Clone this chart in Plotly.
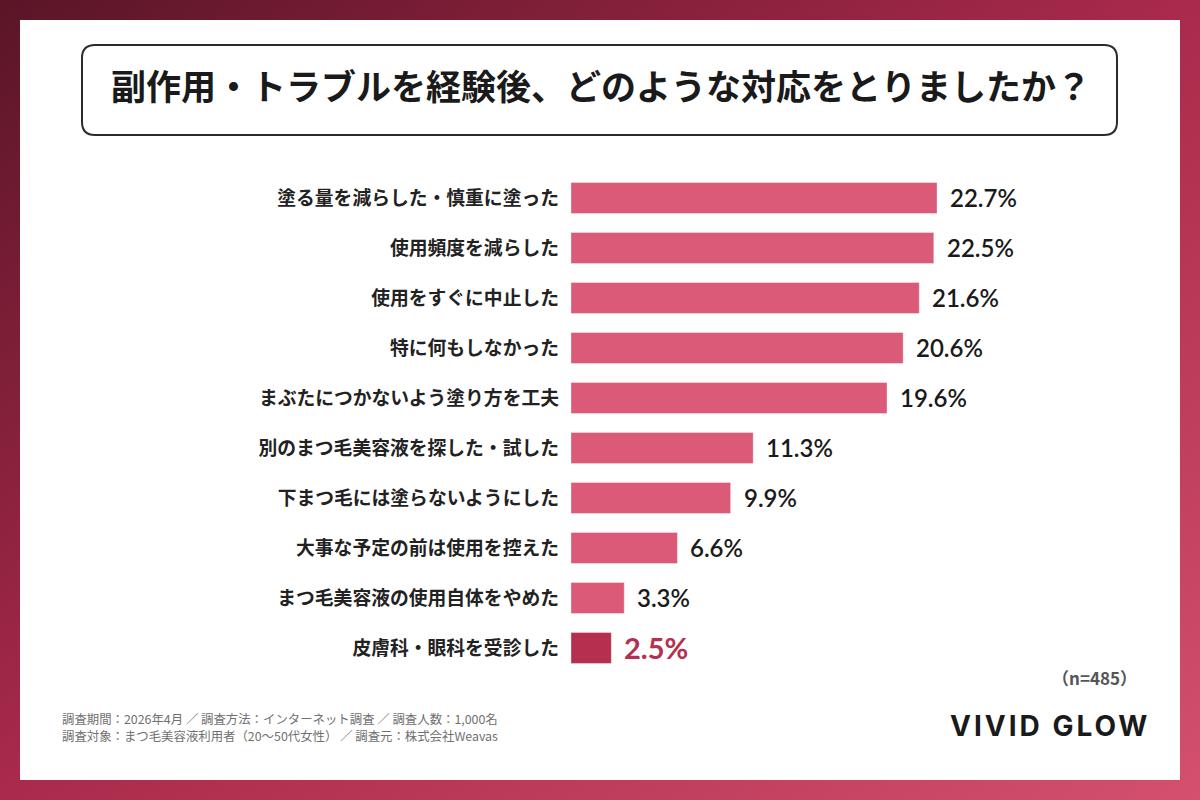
import plotly.graph_objects as go

categories = [
    "塗る量を減らした・慎重に塗った",
    "使用頻度を減らした",
    "使用をすぐに中止した",
    "特に何もしなかった",
    "まぶたにつかないよう塗り方を工夫",
    "別のまつ毛美容液を探した・試した",
    "下まつ毛には塗らないようにした",
    "大事な予定の前は使用を控えた",
    "まつ毛美容液の使用自体をやめた",
    "皮膚科・眼科を受診した",
]
values = [22.7, 22.5, 21.6, 20.6, 19.6, 11.3, 9.9, 6.6, 3.3, 2.5]
value_labels = ["22.7%", "22.5%", "21.6%", "20.6%", "19.6%", "11.3%", "9.9%", "6.6%", "3.3%", "2.5%"]

title_text = "副作用・トラブルを経験後、どのような対応をとりましたか？"
sample_text = "（n=485）"
footer_lines = [
    "調査期間：2026年4月 ／ 調査方法：インターネット調査 ／ 調査人数：1,000名",
    "調査対象：まつ毛美容液利用者（20〜50代女性） ／ 調査元：株式会社Weavas",
]
brand_text = "VIVID GLOW"

W, H = 1200, 800
BAR = "#db5a78"
HIGHLIGHT = "#b5304f"
CJK = "Noto Sans CJK JP"
NUM = "Lato"

colors = [HIGHLIGHT if c == "皮膚科・眼科を受診した" else BAR for c in categories]

def px(x):
    return x / W

def py(y):
    return 1 - y / H

fig = go.Figure()
fig.add_trace(go.Bar(
    x=values, y=categories, orientation="h",
    marker=dict(color=colors, line=dict(color="rgba(255,255,255,0.35)", width=1)),
    width=0.62, hoverinfo="skip",
))

for c, v, lab, col in zip(categories, values, value_labels, colors):
    hi = col == HIGHLIGHT
    fig.add_annotation(
        x=v, y=c, xref="x", yref="y", text=lab, showarrow=False,
        xanchor="left", yanchor="middle", xshift=11, yshift=1,
        font=dict(family=NUM, size=29 if hi else 24, color=HIGHLIGHT if hi else "#1a1a1a", weight="bold" if hi else 600),
    )

# gradient background via inline SVG
svg = ("data:image/svg+xml;utf8,"
       "<svg xmlns='http://www.w3.org/2000/svg' width='1200' height='800'>"
       "<defs><linearGradient id='g' x1='0' y1='0' x2='1' y2='1'>"
       "<stop offset='0' stop-color='%235a1527'/>"
       "<stop offset='0.5' stop-color='%23aa2a4b'/>"
       "<stop offset='1' stop-color='%23d4506e'/>"
       "</linearGradient></defs>"
       "<rect width='1200' height='800' fill='url(%23g)'/></svg>")
fig.add_layout_image(dict(source=svg, xref="paper", yref="paper", x=0, y=1,
                          sizex=1, sizey=1, xanchor="left", yanchor="top",
                          sizing="stretch", layer="below"))

# white panel
fig.add_shape(type="rect", xref="paper", yref="paper",
              x0=px(20), x1=px(1180), y0=py(780), y1=py(20),
              fillcolor="white", line=dict(width=0), layer="below")

# rounded title box
x0, x1, y0, y1, r = 82, 1117, 45, 135, 13
path = (f"M {px(x0+r)},{py(y0)} L {px(x1-r)},{py(y0)} Q {px(x1)},{py(y0)} {px(x1)},{py(y0+r)} "
        f"L {px(x1)},{py(y1-r)} Q {px(x1)},{py(y1)} {px(x1-r)},{py(y1)} "
        f"L {px(x0+r)},{py(y1)} Q {px(x0)},{py(y1)} {px(x0)},{py(y1-r)} "
        f"L {px(x0)},{py(y0+r)} Q {px(x0)},{py(y0)} {px(x0+r)},{py(y0)} Z")
fig.add_shape(type="path", xref="paper", yref="paper", path=path,
              line=dict(color="#2b2b2b", width=2), fillcolor="rgba(0,0,0,0)")

fig.add_annotation(x=px(601), y=py(85), xref="paper", yref="paper", text=title_text,
                   showarrow=False, xanchor="center", yanchor="middle",
                   font=dict(family=CJK, size=35, color="#1a1a1a", weight="bold"))

fig.add_annotation(x=px(1139), y=py(677), xref="paper", yref="paper", text=sample_text,
                   showarrow=False, xanchor="right", yanchor="middle",
                   font=dict(family=CJK, size=17, color="#555555", weight="bold"))

for i, line in enumerate(footer_lines):
    fig.add_annotation(x=px(60), y=py(719 + i * 16.5), xref="paper", yref="paper", text=line,
                       showarrow=False, xanchor="left", yanchor="middle",
                       font=dict(family=CJK, size=12.4, color="#707070"))

fig.add_annotation(x=px(1152), y=py(726), xref="paper", yref="paper",
                   text="<span style='letter-spacing:3px'>" + brand_text + "</span>",
                   showarrow=False, xanchor="right", yanchor="middle",
                   font=dict(family="Inter", size=28, color="#1a1a1a", weight="bold"))

fig.update_layout(
    width=W, height=H, margin=dict(l=0, r=0, t=0, b=0),
    paper_bgcolor="white", plot_bgcolor="rgba(0,0,0,0)",
    showlegend=False, bargap=0.38,
    xaxis=dict(domain=[px(571), px(1171)], range=[0, 600 / (366 / 22.7)],
               showgrid=False, zeroline=False, showticklabels=False, showline=False, fixedrange=True),
    yaxis=dict(domain=[py(673), py(173)], autorange="reversed", showgrid=False,
               zeroline=False, showline=False, ticks="", ticklabelstandoff=11,
               tickfont=dict(family=CJK, size=18.8, color="#222222", weight="bold"), fixedrange=True),
)

fig.write_html("out.html")
